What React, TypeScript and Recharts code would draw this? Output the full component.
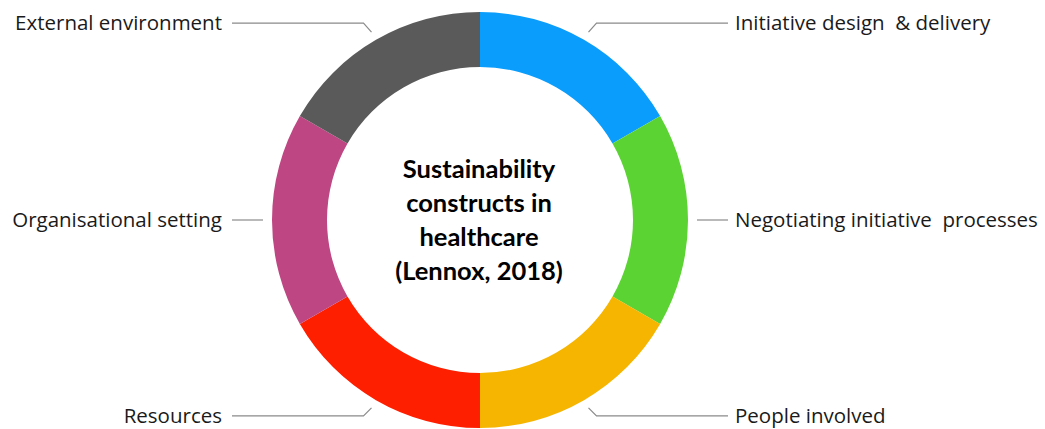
import { PieChart, Pie, Cell } from "recharts";

// =============================================================================
// Sustainability constructs donut — six equal segments with leader-line labels.
// =============================================================================

const categories = [
  "Initiative design  & delivery",
  "Negotiating initiative  processes",
  "People involved",
  "Resources",
  "Organisational setting",
  "External environment",
];
const values = [1, 1, 1, 1, 1, 1];
const colors = ["#0A9DFB", "#5BD333", "#F5B500", "#FE1E00", "#BE4682", "#5A5A5A"];
const centerLines = ["Sustainability", "constructs in", "healthcare", "(Lennox, 2018)"];

const data = categories.map((name, i) => ({ name, value: values[i] }));

const RAD = Math.PI / 180;
const LABEL_FONT = "'Open Sans', 'Noto Sans', sans-serif";
const CENTER_FONT = "Lato, 'Noto Sans', sans-serif";

function renderLabel(props: any) {
  const { cx, cy, midAngle, outerRadius, name, index } = props;
  const cos = Math.cos(-midAngle * RAD);
  const sin = Math.sin(-midAngle * RAD);
  const sx = cx + (outerRadius + 9) * cos;
  const sy = cy + (outerRadius + 9) * sin;
  const right = cos > 0.01;
  const side = right ? 1 : -1;
  let mx = sx;
  let my = sy;
  if (Math.abs(sin) > 0.3) {
    mx = sx + side * 8;
    my = sy + (sin > 0 ? 8 : -9);
  }
  const ex = cx + side * 248;
  const tx = cx + side * (right ? 255 : 258);
  return (
    <g>
      <polyline
        points={`${sx},${sy} ${mx},${my} ${ex},${my}`}
        fill="none"
        stroke="#8a8a8a"
        strokeWidth={1.2}
      />
      <text
        x={tx}
        y={my + 7}
        textAnchor={right ? "start" : "end"}
        fontFamily={LABEL_FONT}
        fontSize={20.5}
        fill="#1a1a1a"
        style={{ whiteSpace: "pre" }}
      >
        {name}
      </text>
      {index === 0 && (
        <text
          x={cx}
          y={cy}
          textAnchor="middle"
          fontFamily={CENTER_FONT}
          fontWeight="bold"
          fontSize={25.5}
          fill="#000"
        >
          {centerLines.map((line, i) => (
            <tspan key={line} x={cx - 1} y={cy - 42 + i * 34}>
              {line}
            </tspan>
          ))}
        </text>
      )}
    </g>
  );
}

export default function App() {
  return (
    <div style={{ position: "absolute", left: 0, top: 0, width: 1045, height: 429, background: "#fff" }}>
      <PieChart width={1045} height={429} margin={{ top: 0, right: 0, bottom: 0, left: 0 }}>
        <Pie
          data={data}
          dataKey="value"
          nameKey="name"
          cx={480}
          cy={220}
          innerRadius={153}
          outerRadius={208}
          startAngle={90}
          endAngle={-270}
          stroke="none"
          label={renderLabel}
          labelLine={false}
          isAnimationActive={false}
        >
          {data.map((d, i) => (
            <Cell key={d.name} fill={colors[i]} />
          ))}
        </Pie>
      </PieChart>
    </div>
  );
}
